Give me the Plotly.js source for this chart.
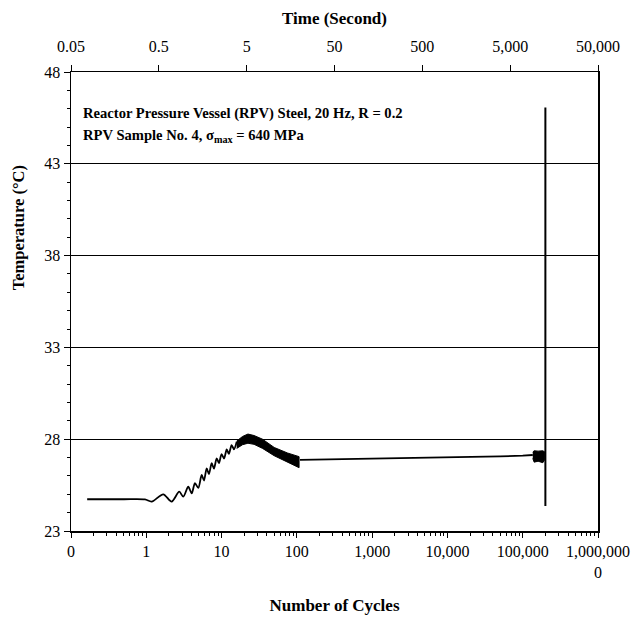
<!DOCTYPE html>
<html>
<head>
<meta charset="utf-8">
<script src="https://cdn.plot.ly/plotly-3.0.1.min.js"></script>
<style>html,body{margin:0;padding:0;background:#fff;}</style>
</head>
<body>
<div id="chart" style="width:632px;height:617px;"></div>
<script>
// ---- Data ----
// Early heating curve with cyclic oscillation (cycles, temperature °C)
const riseCycles = [0.164, 0.5, 0.96, 1.18, 1.68, 2.17, 2.74, 3.10, 3.61, 4.01, 4.43, 4.91, 5.44, 5.84, 6.34, 6.80, 7.39, 7.93, 8.61, 9.23, 10.0, 10.8, 11.7, 12.5, 13.6, 14.6, 15.9];
const riseTemp   = [24.73, 24.73, 24.72, 24.60, 25.00, 24.60, 25.14, 24.87, 25.41, 25.05, 25.60, 25.35, 26.05, 25.75, 26.41, 26.10, 26.69, 26.40, 26.96, 26.70, 27.19, 26.95, 27.45, 27.20, 27.68, 27.45, 27.86];

// Dense oscillation band (envelopes) between ~16 and ~107 cycles
const bandCycles = [15.9, 19, 22.4, 27, 35, 50, 75, 107];
const bandUpper  = [27.90, 28.15, 28.28, 28.20, 28.00, 27.55, 27.25, 27.05];
const bandLower  = [27.50, 27.70, 27.78, 27.72, 27.50, 27.10, 26.75, 26.45];

// Slow steady-state rise
const steadyCycles = [110, 1000, 10000, 50000, 100000, 136000];
const steadyTemp   = [26.87, 26.93, 27.00, 27.06, 27.10, 27.14];

// Oscillation blob just before failure
const blobCycles = [136000, 142000, 160000, 185000, 197000];
const blobUpper  = [27.30, 27.37, 27.35, 27.37, 27.30];
const blobLower  = [26.95, 26.75, 26.80, 26.72, 26.90];

// Failure spike
const failCycles = [200000, 200000];
const failTemp   = [46.06, 24.36];

// Axis ticks
const cycleTickVals = [0.1, 1, 10, 100, 1000, 10000, 100000, 1000000];
const cycleTickText = ["0", "1", "10", "100", "1,000", "10,000", "100,000", "1,000,000<br>0"];
const timeTickVals  = [0.05, 0.5, 5, 50, 500, 5000, 50000];
const timeTickText  = ["0.05", "0.5", "5", "50", "500", "5,000", "50,000"];
const tempTickVals  = [23, 28, 33, 38, 43, 48];

// ---- Build traces ----
const lineStyle = {color: "#000", width: 1.8};
const traces = [
  {x: riseCycles, y: riseTemp, mode: "lines", line: {color: "#000", width: 1.8, shape: "spline", smoothing: 0.8},
   hoverinfo: "skip", showlegend: false},
  {x: bandCycles.concat(bandCycles.slice().reverse()),
   y: bandUpper.concat(bandLower.slice().reverse()),
   mode: "lines", fill: "toself", fillcolor: "#000", line: {color: "#000", width: 1},
   hoverinfo: "skip", showlegend: false},
  {x: steadyCycles, y: steadyTemp, mode: "lines", line: lineStyle, hoverinfo: "skip", showlegend: false},
  {x: blobCycles.concat(blobCycles.slice().reverse()),
   y: blobUpper.concat(blobLower.slice().reverse()),
   mode: "lines", fill: "toself", fillcolor: "#000", line: {color: "#000", width: 1},
   hoverinfo: "skip", showlegend: false},
  {x: failCycles, y: failTemp, mode: "lines", line: {color: "#000", width: 2}, hoverinfo: "skip", showlegend: false},
  // carrier for the top time axis (no visible marks)
  {x: timeTickVals, y: timeTickVals.map(() => null), xaxis: "x2", mode: "lines",
   hoverinfo: "skip", showlegend: false}
];

const fontFam = "Liberation Serif, Times New Roman, serif";
const layout = {
  width: 632, height: 617,
  margin: {l: 71, r: 34, t: 72, b: 86},
  paper_bgcolor: "#fff", plot_bgcolor: "#fff",
  font: {family: fontFam, color: "#000", size: 16},
  showlegend: false,
  xaxis: {
    type: "log", range: [-1, 6],
    tickmode: "array", tickvals: cycleTickVals, ticktext: cycleTickText,
    ticks: "outside", ticklen: 5, tickcolor: "#000", tickwidth: 1,
    showline: true, linecolor: "#000", linewidth: 1.5,
    showgrid: false, zeroline: false,
    minor: {ticks: "outside", ticklen: 3, dtick: "D1", tickcolor: "#000", showgrid: false},
    tickfont: {size: 16, family: fontFam},
    title: {text: "<b>Number of Cycles</b>", font: {size: 17, family: fontFam}, standoff: 19}
  },
  xaxis2: {
    type: "log", overlaying: "x", side: "top", anchor: "y",
    range: [Math.log10(0.05), Math.log10(50000)],
    tickmode: "array", tickvals: timeTickVals, ticktext: timeTickText,
    ticks: "outside", ticklen: 6, tickcolor: "#000",
    ticklabelstandoff: 6,
    showline: true, linecolor: "#000", linewidth: 1.5,
    showgrid: false, zeroline: false,
    tickfont: {size: 16, family: fontFam},
    title: {text: "<b>Time (Second)</b>", font: {size: 17, family: fontFam}, standoff: 9}
  },
  yaxis: {
    range: [23, 48],
    tickmode: "array", tickvals: tempTickVals,
    ticks: "outside", ticklen: 6, tickcolor: "#000",
    showline: true, mirror: true, linecolor: "#000", linewidth: 1.5,
    showgrid: true, gridcolor: "#000", gridwidth: 1.2, zeroline: false,
    minor: {ticks: "outside", ticklen: 3, dtick: 1, tickcolor: "#000", showgrid: false},
    tickfont: {size: 16, family: fontFam}
  },
  annotations: [
    {xref: "paper", yref: "paper", x: -0.1, y: 0.66, xanchor: "center", yanchor: "middle",
     textangle: -90, text: "<b>Temperature (°C)</b>", showarrow: false,
     font: {size: 16.5, family: fontFam}},
    {xref: "paper", yref: "paper", x: 0.019, y: 0.909, xanchor: "left", yanchor: "middle",
     text: "<b>Reactor Pressure Vessel (RPV) Steel, 20 Hz, R = 0.2</b>", showarrow: false,
     font: {size: 14.6, family: fontFam}},
    {xref: "paper", yref: "paper", x: 0.019, y: 0.861, xanchor: "left", yanchor: "middle",
     text: "<b>RPV Sample No. 4, σ<sub>max</sub> = 640 MPa</b>", showarrow: false,
     font: {size: 14.6, family: fontFam}}
  ]
};

Plotly.newPlot("chart", traces, layout, {displayModeBar: false, staticPlot: true});
</script>
</body>
</html>
